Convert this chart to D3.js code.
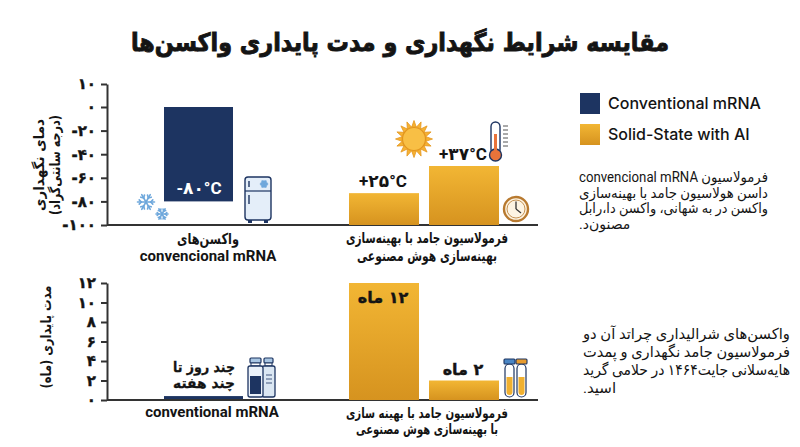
<!DOCTYPE html>
<html><head><meta charset="utf-8">
<script src="https://cdn.jsdelivr.net/npm/d3@7"></script>
<style>body{margin:0;background:#fff} svg{display:block}</style>
</head><body><svg id="c" width="800" height="447"></svg>
<script>
// ---------- DATA ----------
const seriesNames = ["Conventional mRNA", "Solid-State with AI"];
const groups = ["conventional", "solid"];
const tempTicks = [10, 0, -20, -40, -60, -80, -100];
const convTemp = [0, -80];              // bar runs from 0 down to -80
const solidTempLevels = [-73, -50];     // bar tops read on the temperature axis
const tempLabels = ["-۸۰°C", "+۲۵°C", "+۳۷°C"];
const stabTicks = [0, 2, 4, 6, 8, 10, 12];
const convStab = [0.3];
const solidStab = [12, 2];
const stabUnit = "ماه";
const convStabLabel = ["چند روز تا", "چند هفته"];
const tempGroupLabels = [["واکسن‌های", "convencional mRNA"], ["فرمولاسیون جامد با بهینه‌سازی", "بهینه‌سازی هوش مصنوعی"]];
const stabGroupLabels = [["conventional mRNA"], ["فرمولاسیون جامد با بهینه سازی", "با بهینه‌سازی هوش مصنوعی"]];
const titleText = "مقایسه شرایط نگهداری و مدت پایداری واکسن‌ها";
const tempAxisTitle = ["دمای نگهداری", "(درجه سانتی‌گراد)"];
const stabAxisTitle = "مدت پایداری (ماه)";
const note1 = ["فرمولاسیون convencional mRNA", "داسن هولاسیون جامد با بهینه‌سازی", "واکسن در به شهانی، واکسن دا،رابل", "مصنون‌د."];
const note2 = ["واکسن‌های شرالیداری چراتد آن دو", "فرمولاسیون جامد نگهداری و پمدت", "هایه‌سلانی جایت۱۴۶۴ در حلامی گرید", "اسید."];

// ---------- HELPERS ----------
const fa = s => String(s).replace(/\d/g, d => "۰۱۲۳۴۵۶۷۸۹"[d]);
const rtl = s => "\u202B" + s + "\u202C";
const NAVY = "#1d3461", INK = "#141414";
const FONT_B = "Roboto, 'DejaVu Sans', sans-serif";
const FONT_P = "'DejaVu Sans', sans-serif";
const svg = d3.select("#c");
svg.append("rect").attr("width", 800).attr("height", 447).attr("fill", "#fff");
function fit(sel, w) {
  sel.each(function () {
    if (this.getComputedTextLength() > w) d3.select(this).attr("textLength", w).attr("lengthAdjust", "spacingAndGlyphs");
  });
  return sel;
}
function ptext(parent, x, y, s, size, w, anchor) {
  const t = parent.append("text").attr("x", x).attr("y", y).attr("text-anchor", anchor || "middle")
    .attr("font-family", FONT_P).attr("font-weight", "bold").attr("font-size", size).attr("fill", INK).text(rtl(s));
  if (w) fit(t, w);
  return t;
}

const defs = svg.append("defs");
const grad = defs.append("linearGradient").attr("id", "gold").attr("x1", 0).attr("y1", 0).attr("x2", 0).attr("y2", 1);
grad.append("stop").attr("offset", "0%").attr("stop-color", "#f2b634");
grad.append("stop").attr("offset", "100%").attr("stop-color", "#d6931f");
const colors = [NAVY, "url(#gold)"];

// ---------- TITLE ----------
ptext(svg, 400, 51, titleText, 25, 538).attr("stroke", INK).attr("stroke-width", 0.9);

// ---------- SCALES ----------
const x0 = d3.scaleBand().domain(groups).range([164, 499]).paddingInner(35 / 185).paddingOuter(0);
const x1 = d3.scaleBand().domain([0, 1]).range([0, x0.bandwidth()]).paddingInner(0.125);
const yT = d3.scaleLinear().domain([-100, 0, 10]).range([225, 107, 84]);
const yS = d3.scaleLinear().domain([0, 12]).range([400, 283]);
const axisX = 107, axisEnd = 538;

function styleAxis(g) {
  g.select(".domain").attr("stroke", "#333").attr("stroke-width", 2);
  g.selectAll(".tick line").attr("stroke", "#333").attr("stroke-width", 2);
  g.selectAll(".tick text").attr("font-family", FONT_P).attr("font-weight", "bold")
    .attr("font-size", 15).attr("fill", INK).attr("stroke", INK).attr("stroke-width", 0.4);
}

// ---------- TOP CHART ----------
const topG = svg.append("g");
topG.append("g").attr("transform", `translate(${axisX},0)`)
  .call(d3.axisLeft(yT).tickValues(tempTicks).tickFormat(fa).tickSize(6).tickSizeOuter(0).tickPadding(5))
  .call(styleAxis);
topG.append("line").attr("x1", axisX).attr("x2", axisEnd).attr("y1", yT(-100)).attr("y2", yT(-100))
  .attr("stroke", "#333").attr("stroke-width", 2);

topG.append("rect").attr("x", x0("conventional") + x1(0)).attr("width", x1.bandwidth() - 1)
  .attr("y", yT(convTemp[0])).attr("height", yT(convTemp[1]) - yT(convTemp[0])).attr("fill", colors[0]);
topG.append("text").attr("x", x0("conventional") + x1(0) + x1.bandwidth() / 2).attr("y", yT(convTemp[1]) - 7)
  .attr("text-anchor", "middle").attr("font-family", FONT_B).attr("font-weight", "bold").attr("font-size", 17)
  .attr("fill", "#fff").text(tempLabels[0]);

topG.selectAll(".sb").data(solidTempLevels).join("rect")
  .attr("x", (d, i) => x0("solid") + x1(i)).attr("width", x1.bandwidth())
  .attr("y", d => yT(d)).attr("height", d => yT(-100) - yT(d)).attr("fill", colors[1]);
topG.selectAll(".sl").data(solidTempLevels).join("text")
  .attr("x", (d, i) => x0("solid") + x1(i) + x1.bandwidth() / 2 - 1).attr("y", d => yT(d) - 6)
  .attr("text-anchor", "middle").attr("font-family", FONT_B).attr("font-weight", "bold").attr("font-size", 17)
  .attr("fill", INK).text((d, i) => tempLabels[i + 1]);

// group labels
ptext(topG, x0("conventional") + 44, 244, tempGroupLabels[0][0], 15, 62);
topG.append("text").attr("x", x0("conventional") + 44).attr("y", 261).attr("text-anchor", "middle")
  .attr("font-family", FONT_B).attr("font-weight", "bold").attr("font-size", 15).attr("fill", INK).text(tempGroupLabels[0][1]);
ptext(topG, x0("solid") + x0.bandwidth() / 2 + 3, 243, tempGroupLabels[1][0], 15, 162);
ptext(topG, x0("solid") + x0.bandwidth() / 2 + 3, 261, tempGroupLabels[1][1], 15, 140);
// axis title
const tw = [92, 100];
tempAxisTitle.forEach((l, i) => {
  ptext(topG, 0, 0, l, 14, tw[i]).attr("transform", `translate(${44 + i * 16},165) rotate(-90)`);
});

// ---------- BOTTOM CHART ----------
const botG = svg.append("g");
botG.append("g").attr("transform", `translate(${axisX},0)`)
  .call(d3.axisLeft(yS).tickValues(stabTicks).tickFormat(fa).tickSize(6).tickSizeOuter(0).tickPadding(5))
  .call(styleAxis);
botG.append("rect").attr("x", x0("conventional") + x1(0)).attr("width", x1.bandwidth() + 9)
  .attr("y", yS(convStab[0]) - 1).attr("height", yS(0) - yS(convStab[0]) + 1).attr("fill", colors[0]);
botG.append("line").attr("x1", axisX).attr("x2", axisEnd).attr("y1", yS(0)).attr("y2", yS(0))
  .attr("stroke", "#333").attr("stroke-width", 2);
convStabLabel.forEach((l, i) => {
  ptext(botG, x0("conventional") + 40, 372 + i * 16, l, 14, 62).attr("stroke", INK).attr("stroke-width", 0.3);
});
botG.selectAll(".sb").data(solidStab).join("rect")
  .attr("x", (d, i) => x0("solid") + x1(i)).attr("width", x1.bandwidth())
  .attr("y", d => yS(d)).attr("height", d => yS(0) - yS(d)).attr("fill", colors[1]);
botG.selectAll(".sl").data(solidStab).join("text")
  .attr("x", (d, i) => x0("solid") + x1(i) + x1.bandwidth() / 2 - 1)
  .attr("y", (d, i) => i === 0 ? yS(d) + 20 : yS(d) - 6)
  .attr("text-anchor", "middle").attr("font-family", FONT_P).attr("font-weight", "bold").attr("font-size", 16)
  .attr("fill", INK).attr("stroke", INK).attr("stroke-width", 0.4)
  .text(d => rtl(fa(d) + " " + stabUnit));
botG.append("text").attr("x", x0("conventional") + 48).attr("y", 417).attr("text-anchor", "middle")
  .attr("font-family", FONT_B).attr("font-weight", "bold").attr("font-size", 15).attr("fill", INK).text(stabGroupLabels[0][0]);
ptext(botG, x0("solid") + x0.bandwidth() / 2 + 3, 418, stabGroupLabels[1][0], 14, 162);
ptext(botG, x0("solid") + x0.bandwidth() / 2 + 3, 434, stabGroupLabels[1][1], 14, 142);
ptext(botG, 0, 0, stabAxisTitle, 14, 103).attr("transform", `translate(51,337) rotate(-90)`);

// ---------- LEGEND ----------
const leg = svg.append("g");
seriesNames.forEach((n, i) => {
  leg.append("rect").attr("x", 580).attr("y", 93 + i * 31).attr("width", 20).attr("height", 21).attr("fill", colors[i]);
  leg.append("text").attr("x", 608).attr("y", 109 + i * 31).attr("font-family", "Inter, Roboto, sans-serif")
    .attr("font-weight", 500).attr("font-size", 16).attr("fill", INK).text(n);
});
// ---------- NOTES ----------
function note(lines, left, right, y0, dy, size) {
  lines.forEach((l, i) => {
    const last = i === lines.length - 1;
    const t = svg.append("text").attr("x", last ? left : right).attr("y", y0 + i * dy)
      .attr("text-anchor", last ? "start" : "end")
      .attr("font-family", "Roboto, 'DejaVu Sans', sans-serif").attr("font-size", size).attr("fill", INK).text(rtl(l));
    if (!last) t.attr("textLength", right - left).attr("lengthAdjust", "spacingAndGlyphs");
  });
}
note(note1, 579, 768, 182, 15.5, 14);
note(note2, 583, 790, 339, 18, 15);

// ---------- ICONS (decoration) ----------
const ic = svg.append("g");
function snowflake(cx, cy, r, col) {
  const g = ic.append("g").attr("transform", `translate(${cx},${cy})`).attr("stroke", col).attr("stroke-width", 1.6).attr("stroke-linecap", "round");
  for (let k = 0; k < 6; k++) {
    const a = k * Math.PI / 3;
    const ex = r * Math.cos(a), ey = r * Math.sin(a);
    g.append("line").attr("x1", 0).attr("y1", 0).attr("x2", ex).attr("y2", ey);
    const bx = 0.55 * ex, by = 0.55 * ey, b = r * 0.35;
    [-1, 1].forEach(s => {
      const aa = a + s * Math.PI / 4;
      g.append("line").attr("x1", bx).attr("y1", by).attr("x2", bx + b * Math.cos(aa)).attr("y2", by + b * Math.sin(aa));
    });
  }
}
snowflake(146, 202, 8.5, "#6fa8dc");
snowflake(162, 214, 6, "#6fa8dc");
ic.append("rect").attr("x", 245).attr("y", 177).attr("width", 26).attr("height", 43).attr("rx", 3)
  .attr("fill", "#e4eef9").attr("stroke", NAVY).attr("stroke-width", 1.4);
ic.append("line").attr("x1", 245).attr("x2", 271).attr("y1", 191).attr("y2", 191).attr("stroke", NAVY).attr("stroke-width", 1.2);
ic.append("line").attr("x1", 249).attr("x2", 249).attr("y1", 181).attr("y2", 187).attr("stroke", NAVY).attr("stroke-width", 1.4);
ic.append("line").attr("x1", 249).attr("x2", 249).attr("y1", 195).attr("y2", 204).attr("stroke", NAVY).attr("stroke-width", 1.4);
ic.append("rect").attr("x", 248).attr("y", 220).attr("width", 4).attr("height", 3).attr("fill", NAVY);
ic.append("rect").attr("x", 264).attr("y", 220).attr("width", 4).attr("height", 3).attr("fill", NAVY);
snowflake(264, 184, 3.5, "#6fa8dc");
const sun = ic.append("g").attr("transform", "translate(414,139)");
for (let k = 0; k < 16; k++) {
  const a = k * Math.PI / 8, w = Math.PI / 16;
  const p = [[12 * Math.cos(a - w), 12 * Math.sin(a - w)], [18.5 * Math.cos(a), 18.5 * Math.sin(a)], [12 * Math.cos(a + w), 12 * Math.sin(a + w)]];
  sun.append("path").attr("d", "M" + p.join("L") + "Z").attr("fill", "#f6b132").attr("stroke", "#e3951c").attr("stroke-width", 0.8);
}
sun.append("circle").attr("r", 11.5).attr("fill", "#f8bf45").attr("stroke", "#e3951c").attr("stroke-width", 1.2);
ic.append("rect").attr("x", 491).attr("y", 122).attr("width", 9).attr("height", 32).attr("rx", 4.5)
  .attr("fill", "#fff").attr("stroke", NAVY).attr("stroke-width", 1.4);
ic.append("circle").attr("cx", 495.5).attr("cy", 155).attr("r", 6).attr("fill", "#e8733a").attr("stroke", NAVY).attr("stroke-width", 1.4);
ic.append("rect").attr("x", 494).attr("y", 134).attr("width", 3).attr("height", 18).attr("fill", "#e8733a");
for (let k = 0; k < 6; k++) ic.append("line").attr("x1", 503).attr("x2", 508).attr("y1", 126 + k * 4).attr("y2", 126 + k * 4).attr("stroke", "#555").attr("stroke-width", 1);
ic.append("circle").attr("cx", 516).attr("cy", 209).attr("r", 12).attr("fill", "#fdf4e3").attr("stroke", "#b87a30").attr("stroke-width", 2.4);
ic.append("circle").attr("cx", 516).attr("cy", 209).attr("r", 9).attr("fill", "none").attr("stroke", "#b87a30").attr("stroke-width", 0.8);
ic.append("line").attr("x1", 516).attr("y1", 209).attr("x2", 516).attr("y2", 201.5).attr("stroke", "#333").attr("stroke-width", 1.3);
ic.append("line").attr("x1", 516).attr("y1", 209).attr("x2", 521).attr("y2", 213).attr("stroke", "#333").attr("stroke-width", 1.3);
function vial(x, y, w, h, fill, liquid) {
  ic.append("rect").attr("x", x + 2).attr("y", y).attr("width", w - 4).attr("height", 5).attr("rx", 1).attr("fill", "#a9c6e3").attr("stroke", NAVY).attr("stroke-width", 1.2);
  ic.append("rect").attr("x", x + 3).attr("y", y + 5).attr("width", w - 6).attr("height", 3).attr("fill", "#fff").attr("stroke", NAVY).attr("stroke-width", 1);
  ic.append("rect").attr("x", x).attr("y", y + 8).attr("width", w).attr("height", h - 8).attr("rx", 2).attr("fill", fill).attr("stroke", NAVY).attr("stroke-width", 1.3);
  if (liquid) ic.append("rect").attr("x", x + 2).attr("y", y + 18).attr("width", w - 4).attr("height", h - 21).attr("fill", NAVY);
}
vial(262, 358, 13, 39, "#dbe7f3", false);
for (let k = 0; k < 3; k++) ic.append("line").attr("x1", 266).attr("x2", 272).attr("y1", 375 + k * 4).attr("y2", 375 + k * 4).attr("stroke", NAVY).attr("stroke-width", 0.8);
vial(248, 358, 15, 39, "#eaf1f9", true);
function tube(x, cap) {
  ic.append("rect").attr("x", x).attr("y", 364).attr("width", 9).attr("height", 33).attr("rx", 4.5).attr("fill", "#fff").attr("stroke", NAVY).attr("stroke-width", 1.2);
  ic.append("path").attr("d", `M${x + 1.5},377 h6 v15 a3,3 0 0 1 -6,0 z`).attr("fill", "#f0b030");
  ic.append("rect").attr("x", x - 1).attr("y", 359).attr("width", 11).attr("height", 5).attr("rx", 1).attr("fill", cap).attr("stroke", NAVY).attr("stroke-width", 1.1);
}
tube(505, "#4a86c5");
tube(517, "#e79b2f");
</script></body></html>
